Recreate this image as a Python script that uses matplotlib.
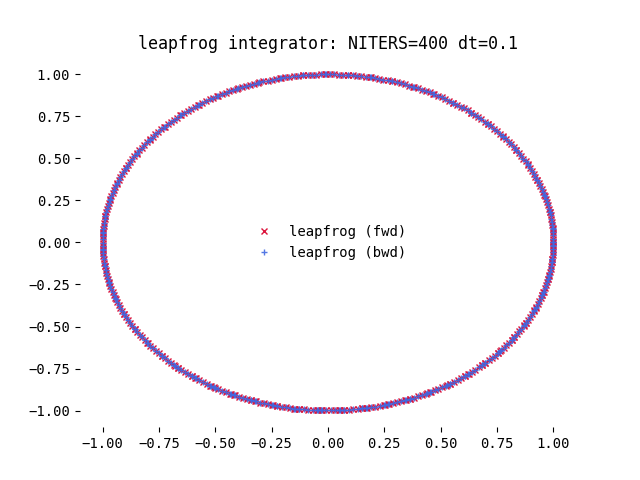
import numpy as np
import matplotlib
matplotlib.use("Agg")
import matplotlib.pyplot as plt

plt.rcParams["font.family"] = ["DejaVu Sans Mono"]

# run parameters, as stated in the title
NITERS = 400
dt = 0.1
x0 = 1.0
v0 = 0.0


def leapfrog(x, v, dt, n):
    xs, vs = [x], [v]
    for _ in range(n):
        v = v - 0.5 * dt * x
        x = x + dt * v
        v = v - 0.5 * dt * x
        xs.append(x)
        vs.append(v)
    return np.array(xs), np.array(vs)


fwd_x, fwd_v = leapfrog(x0, v0, dt, NITERS)
bwd_x, bwd_v = leapfrog(fwd_x[-1], fwd_v[-1], -dt, NITERS)

fig, ax = plt.subplots(figsize=(6.4, 4.8), dpi=100)
ax.plot(fwd_x, fwd_v, linestyle="none", marker="x", markersize=4,
        color="crimson", label="leapfrog (fwd)")
ax.plot(bwd_x, bwd_v, linestyle="none", marker="+", markersize=4,
        color="royalblue", alpha=0.9, label="leapfrog (bwd)")

for s in ax.spines.values():
    s.set_visible(False)

ax.set_title(f"leapfrog integrator: NITERS={NITERS} dt={dt}")
ax.legend(loc="center", frameon=False)

fig.savefig("out.png")
